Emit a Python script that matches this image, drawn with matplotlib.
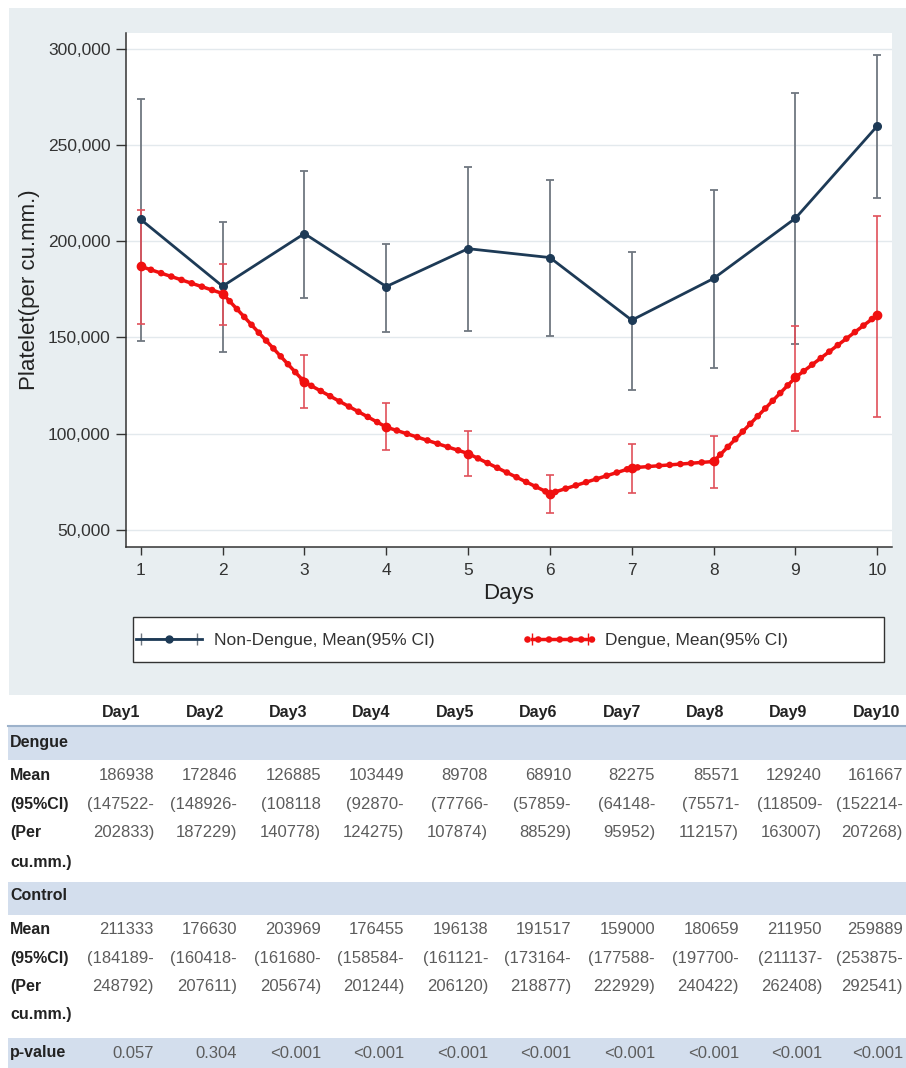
import numpy as np
import matplotlib
matplotlib.use('Agg')
import matplotlib.pyplot as plt
from matplotlib.patches import Rectangle
from matplotlib.lines import Line2D
from matplotlib.legend_handler import HandlerLine2D
from matplotlib.ticker import StrMethodFormatter

plt.rcParams['font.family'] = 'Liberation Sans'

# Datos de plaquetas por día
dias = np.arange(1, 11)
nd_media = np.array([211333, 176630, 203969, 176455, 196138, 191517, 159000, 180659, 211950, 259889])
nd_inf = np.array([148200, 142500, 170300, 153000, 153500, 150900, 122700, 134300, 146400, 222300])
nd_sup = np.array([273900, 210100, 236600, 198400, 238500, 231600, 194500, 226600, 276800, 296900])

d_media = np.array([186938, 172846, 126885, 103449, 89708, 68910, 82275, 85571, 129240, 161667])
d_inf = np.array([157100, 156600, 113300, 91500, 78000, 58600, 69000, 71600, 101400, 108800])
d_sup = np.array([216200, 188300, 140900, 116000, 101500, 78500, 94600, 98800, 156100, 213200])

# Textos de la tabla
col_dias = ['Day1', 'Day2', 'Day3', 'Day4', 'Day5', 'Day6', 'Day7', 'Day8', 'Day9', 'Day10']
d_ic_inf = ['(147522-', '(148926-', '(108118', '(92870-', '(77766-', '(57859-', '(64148-', '(75571-', '(118509-', '(152214-']
d_ic_sup = ['202833)', '187229)', '140778)', '124275)', '107874)', '88529)', '95952)', '112157)', '163007)', '207268)']
c_ic_inf = ['(184189-', '(160418-', '(161680-', '(158584-', '(161121-', '(173164-', '(177588-', '(197700-', '(211137-', '(253875-']
c_ic_sup = ['248792)', '207611)', '205674)', '201244)', '206120)', '218877)', '222929)', '240422)', '262408)', '292541)']
p_valor = ['0.057', '0.304', '<0.001', '<0.001', '<0.001', '<0.001', '<0.001', '<0.001', '<0.001', '<0.001']

W, H = 906, 1068
azul = '#1d3a56'
rojo = '#f01010'

def fx(x):
    return x / W

def fy(y):
    return 1 - y / H

fig = plt.figure(figsize=(W / 100, H / 100), dpi=100)
fig.patch.set_facecolor('white')

# Fondo gris del gráfico
fig.patches.append(Rectangle((fx(9), fy(695)), 1, (695 - 8) / H, transform=fig.transFigure,
                             facecolor='#e8eef1', edgecolor='none', zorder=-1))

ax = fig.add_axes([fx(126), fy(546.7), (892 - 126) / W, (546.7 - 33) / H])
ax.set_facecolor('white')

# Barras de error
ax.errorbar(dias, nd_media, yerr=[nd_media - nd_inf, nd_sup - nd_media], fmt='none',
            ecolor='#6f7780', elinewidth=1.3, capsize=2.6, capthick=1.3, zorder=2)
ax.errorbar(dias, d_media, yerr=[d_media - d_inf, d_sup - d_media], fmt='none',
            ecolor='#e0505a', elinewidth=1.2, capsize=2.6, capthick=1.2, zorder=2)

# Líneas de medias
ax.plot(dias, nd_media, color=azul, lw=2, marker='o', ms=5.5, zorder=3)
ax.plot(dias, d_media, color=rojo, lw=2.5, marker='o', ms=6, zorder=4)
ax.plot(dias, d_media, color=rojo, lw=4.8, ls=(0, (0.01, 1.6)), dash_capstyle='round', zorder=4)

ax.set_xlim(0.82, 10.18)
ax.set_ylim(41300, 308200)
ax.set_xticks(dias)
ax.set_yticks(np.arange(50000, 300001, 50000))
ax.yaxis.set_major_formatter(StrMethodFormatter('{x:,.0f}'))
ax.tick_params(axis='y', length=7, width=1, pad=4, labelsize=12.5, colors='#333333')
ax.tick_params(axis='x', length=6, width=1, pad=6, labelsize=12.5, colors='#333333')
ax.yaxis.grid(True, color='#e3e9ed', lw=1)
ax.set_axisbelow(True)
for lado in ['top', 'right']:
    ax.spines[lado].set_visible(False)
for lado in ['left', 'bottom']:
    ax.spines[lado].set_color('#333333')
    ax.spines[lado].set_linewidth(1.1)

ax.set_xlabel('Days', fontsize=16, color='#222222', labelpad=3)
ax.set_ylabel('Platelet(per cu.mm.)', fontsize=16, color='#222222', labelpad=6)

# Leyenda
fig.patches.append(Rectangle((fx(133), fy(662)), (884 - 133) / W, (662 - 617) / H,
                             transform=fig.transFigure, facecolor='white', edgecolor='#333333', lw=1))
tapa_nd = Line2D([], [], color='#6f7780', marker='|', ms=9, lw=1.3)
linea_nd = Line2D([], [], color=azul, marker='o', ms=5, lw=2)
tapa_d = Line2D([], [], color=rojo, marker='|', ms=9, lw=2.5)
puntos_d = Line2D([], [], color=rojo, lw=4.8, ls=(0, (0.01, 1.6)), dash_capstyle='round')
fig.legend([(tapa_nd, linea_nd), (tapa_d, puntos_d)],
           ['Non-Dengue, Mean(95% CI)', 'Dengue, Mean(95% CI)'],
           handler_map={tapa_nd: HandlerLine2D(numpoints=2), tapa_d: HandlerLine2D(numpoints=2)},
           loc='center left', bbox_to_anchor=(fx(136), fy(640)), ncol=2, frameon=False,
           fontsize=12.5, labelcolor='#333333', handlelength=3.8, handletextpad=0.7,
           columnspacing=5.3, borderpad=0, borderaxespad=0)

# Tabla
for y0, y1 in [(725, 760), (882, 915), (1038, 1068)]:
    fig.patches.append(Rectangle((fx(8), fy(y1)), 1, (y1 - y0) / H, transform=fig.transFigure,
                                 facecolor='#d3deed', edgecolor='none'))
fig.add_artist(Line2D([fx(8), 1], [fy(725.5), fy(725.5)], color='#9db2cb', lw=1.5))

col_der = [154, 237, 321, 404, 488, 571, 655, 739, 822, 903]
for i, dia in enumerate(col_dias):
    fig.text(fx(102 + i * 83.4), fy(712), dia, ha='left', va='center', fontsize=11.5,
             fontweight='bold', color='#222222')

etiquetas = [(742, 'Dengue'), (775, 'Mean'), (805, '(95%CI)'), (833, '(Per'), (863, 'cu.mm.)'),
             (896, 'Control'), (930, 'Mean'), (958, '(95%CI)'), (987, '(Per'), (1015, 'cu.mm.)'),
             (1053, 'p-value')]
for y, txt in etiquetas:
    fig.text(fx(10), fy(y), txt, ha='left', va='center', fontsize=11.5, fontweight='bold', color='#222222')

filas = [(775, [str(v) for v in d_media]), (805, d_ic_inf), (833, d_ic_sup),
         (930, [str(v) for v in nd_media]), (958, c_ic_inf), (987, c_ic_sup),
         (1053, p_valor)]
for y, textos in filas:
    for i, txt in enumerate(textos):
        fig.text(fx(col_der[i]), fy(y), txt, ha='right', va='center', fontsize=12, color='#5c5c5c')

fig.savefig('out.png', dpi=100)
